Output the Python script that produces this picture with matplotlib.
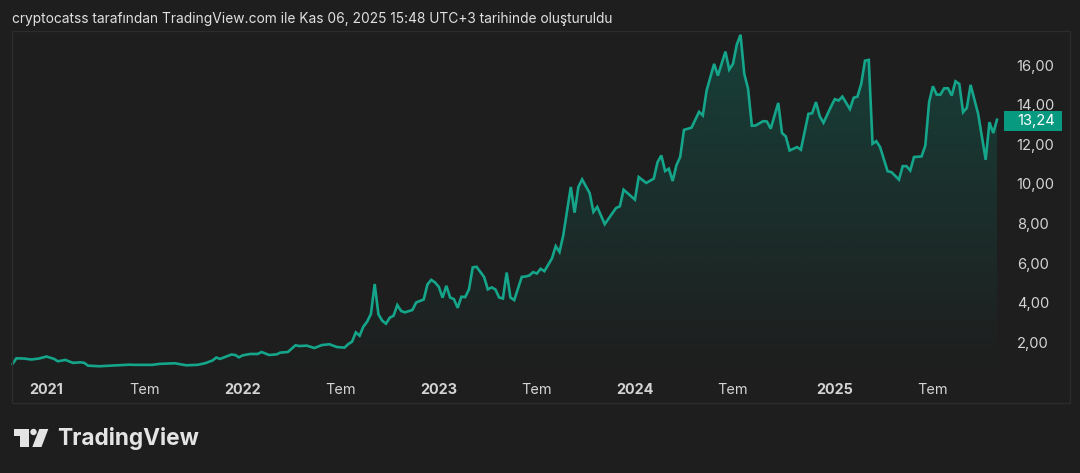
#!/usr/bin/env python3
# -*- coding: utf-8 -*-
import numpy as np
import matplotlib
matplotlib.use('Agg')
import matplotlib.pyplot as plt
from matplotlib.patches import Rectangle, Polygon, Circle

plt.rcParams['font.family'] = ['Inter', 'DejaVu Sans']

# weeks since the start of the series (late Oct 2020)
weeks = [0, 1, 3, 5, 7, 9, 11, 12, 14, 16, 18, 19, 20, 23, 25, 28, 31, 32, 37, 39,
         43, 46, 49, 51, 53, 54, 55, 58, 59, 60, 61, 63, 65, 66, 68, 70, 71, 73, 75, 76,
         78, 80, 82, 84, 86, 88, 89, 90, 91, 92, 93, 94, 95, 96, 97, 98, 99, 100, 101, 102,
         103, 104, 106, 107, 109, 110, 111, 112, 113, 114, 115, 116, 117, 118, 119, 120, 121, 122, 123, 125,
         126, 127, 128, 129, 130, 131, 132, 133, 135, 136, 137, 138, 139, 140, 141, 143, 144, 145, 146, 148,
         149, 150, 151, 153, 154, 155, 157, 160, 161, 162, 165, 166, 168, 170, 171, 172, 173, 174, 175, 176,
         177, 178, 180, 182, 183, 184, 186, 187, 189, 190, 191, 192, 193, 194, 195, 196, 197, 199, 200, 201,
         203, 204, 205, 206, 208, 209, 211, 212, 213, 214, 215, 217, 218, 219, 220, 222, 223, 224, 225, 226,
         227, 228, 229, 230, 232, 233, 235, 236, 237, 238, 239, 241, 242, 243, 244, 245, 246, 247, 248, 249,
         250, 251, 252, 253, 254, 256, 258, 259, 260, 261]
prices = [0.92, 1.20, 1.19, 1.14, 1.19, 1.29, 1.17, 1.05, 1.12, 0.97, 1.00, 0.97, 0.83, 0.80, 0.82, 0.85, 0.88, 0.87, 0.87, 0.92,
          0.95, 0.85, 0.87, 0.95, 1.09, 1.24, 1.17, 1.39, 1.37, 1.25, 1.35, 1.42, 1.42, 1.52, 1.37, 1.40, 1.49, 1.52, 1.86, 1.82,
          1.84, 1.72, 1.87, 1.91, 1.77, 1.74, 1.92, 2.04, 2.51, 2.34, 2.80, 3.05, 3.44, 4.95, 3.42, 3.10, 2.95, 3.25, 3.35, 3.89,
          3.59, 3.52, 3.64, 4.02, 4.17, 4.93, 5.16, 5.03, 4.81, 4.26, 4.86, 4.27, 4.19, 3.75, 4.31, 4.29, 4.68, 5.79, 5.82, 5.31,
          4.68, 4.78, 4.68, 4.27, 4.22, 5.53, 4.27, 4.14, 5.31, 5.33, 5.38, 5.55, 5.48, 5.72, 5.60, 6.24, 6.86, 6.57, 7.41, 9.85,
          8.55, 9.85, 10.23, 9.54, 8.59, 8.84, 7.97, 8.79, 8.87, 9.71, 9.21, 10.35, 10.05, 10.27, 11.10, 11.44, 10.65, 10.77, 10.15, 10.94,
          11.36, 12.73, 12.84, 13.64, 13.46, 14.71, 16.06, 15.47, 16.68, 15.77, 16.06, 17.03, 17.53, 15.55, 14.80, 12.94, 12.95, 13.17, 13.15, 12.79,
          14.09, 12.57, 12.40, 11.69, 11.86, 11.73, 13.54, 13.57, 14.13, 13.42, 13.09, 13.91, 14.28, 14.21, 14.41, 13.78, 14.35, 14.41, 15.05, 16.22,
          16.26, 12.03, 12.16, 11.86, 10.64, 10.60, 10.22, 10.90, 10.90, 10.68, 11.36, 11.39, 11.94, 14.13, 14.93, 14.51, 14.51, 14.83, 14.83, 14.46,
          15.18, 15.05, 13.62, 13.84, 15.00, 13.54, 11.22, 13.12, 12.57, 13.24]

x_tick_weeks = [9, 35, 61, 87, 113, 139, 165, 191, 218, 244]
x_tick_labels = ['2021', 'Tem', '2022', 'Tem', '2023', 'Tem', '2024', 'Tem', '2025', 'Tem']
y_ticks = [2, 4, 6, 8, 10, 12, 14, 16]
y_tick_labels = ['2,00', '4,00', '6,00', '8,00', '10,00', '12,00', '14,00', '16,00']
last_label = '13,24'
title = 'cryptocatss tarafından TradingView.com ile Kas 06, 2025 15:48 UTC+3 tarihinde oluşturuldu'

BG = '#1e1e1e'
LINE = '#14a58a'
TEAL = '#089981'
BORDER = '#2c2c2c'
TEXT = '#d4d4d4'
W, H = 1080, 473


def main():
    fig = plt.figure(figsize=(W / 100, H / 100), dpi=100, facecolor=BG)

    # price pane, placed by pixels
    left, right, top, bottom = 12.6, 997, 31, 372
    ax = fig.add_axes([left / W, 1 - bottom / H, (right - left) / W, (bottom - top) / H])
    ax.set_facecolor('none')
    ax.set_xlim(0, 261)
    ax.set_ylim(0.51, 17.72)
    for spine in ax.spines.values():
        spine.set_visible(False)

    # gradient under the line
    rgb = matplotlib.colors.to_rgb(TEAL)
    grad = np.zeros((256, 1, 4))
    grad[..., :3] = rgb
    grad[..., 3] = np.linspace(0.28, 0, 256)[:, None]
    im = ax.imshow(grad, extent=[0, 261, 0.51, 17.72], aspect='auto', origin='upper', zorder=1)
    clip = Polygon(list(zip(weeks, prices)) + [(261, 0.51), (0, 0.51)], closed=True,
                   transform=ax.transData, facecolor='none', edgecolor='none')
    ax.add_patch(clip)
    im.set_clip_path(clip)

    ax.plot(weeks, prices, color=LINE, lw=1.9, solid_joinstyle='miter', zorder=3, clip_on=False)

    ax.set_xticks(x_tick_weeks)
    ax.set_xticklabels(x_tick_labels, fontsize=10.4, color=TEXT)
    for lab, text in zip(ax.get_xticklabels(), x_tick_labels):
        if text != 'Tem':
            lab.set_fontweight('bold')
    ax.tick_params(axis='x', length=0, pad=8)

    ax.yaxis.tick_right()
    ax.set_yticks(y_ticks)
    ax.set_yticklabels(y_tick_labels, fontsize=10.6, color=TEXT)
    ax.tick_params(axis='y', length=0, pad=14.2)

    # overlay in pixel coordinates for frame, title, price tag and logo
    ov = fig.add_axes([0, 0, 1, 1], facecolor='none')
    ov.set_xlim(0, W)
    ov.set_ylim(H, 0)
    ov.axis('off')
    ov.add_patch(Rectangle((12, 31), 1058, 372, fill=False, edgecolor=BORDER, lw=1))
    ov.text(12, 18.5, title, fontsize=9.92, color='#e0e0e0', va='center', ha='left')

    ov.add_patch(Rectangle((1004, 111), 58, 20, facecolor=TEAL, edgecolor='none'))
    ov.text(1017, 120.7, last_label, fontsize=10.6, color='white', va='center', ha='left')

    logo = '#e4e4e4'
    ov.add_patch(Polygon([(14, 429), (29, 429), (29, 447), (20, 447), (20, 436), (14, 436)], facecolor=logo, edgecolor='none'))
    ov.add_patch(Circle((33.5, 432), 3.2, facecolor=logo, edgecolor='none'))
    ov.add_patch(Polygon([(39.3, 429), (48.3, 429), (41.5, 447), (32.3, 447)], facecolor=logo, edgecolor='none'))
    ov.text(57.5, 438.5, 'TradingView', fontsize=16.3, fontweight='bold', color=logo, va='center', ha='left')

    fig.savefig('out.png', dpi=100, facecolor=BG)
    plt.close(fig)


if __name__ == '__main__':
    main()
